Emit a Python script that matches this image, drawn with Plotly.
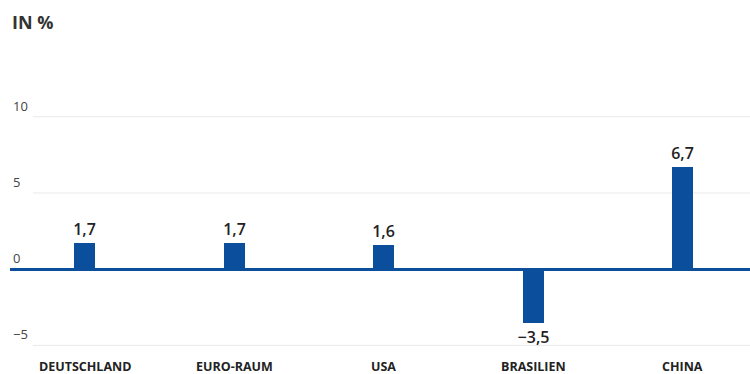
import plotly.graph_objects as go

categories = ["DEUTSCHLAND", "EURO-RAUM", "USA", "BRASILIEN", "CHINA"]
values = [1.7, 1.7, 1.6, -3.5, 6.7]
y_ticks = [-5, 0, 5, 10]
y_tick_labels = ["\u22125", "0", "5", "10"]

bar_color = "#0b4f9c"
text_color = "#222222"
font_family = "Open Sans, Noto Sans, sans-serif"

labels = [f"{v:.1f}".replace(".", ",").replace("-", "\u2212") for v in values]

fig = go.Figure()
fig.add_trace(go.Bar(
    x=list(range(len(categories))), y=values,
    width=0.14, marker=dict(color=bar_color, line=dict(width=0)),
    text=labels, textposition="outside", cliponaxis=False, constraintext="none",
    textfont=dict(family=font_family, size=16, color=text_color, weight=600),
))

shapes = []
for v in y_ticks:
    if v == 0:
        continue
    shapes.append(dict(type="line", xref="paper", yref="y", x0=0.031, x1=1,
                       y0=v, y1=v, line=dict(color="#e9e9e9", width=1), layer="below"))

annotations = []
for v, t in zip(y_ticks, y_tick_labels):
    annotations.append(dict(
        x=0, xref="paper", y=v, yref="y", text=t, showarrow=False,
        xanchor="left", yanchor="middle", xshift=1, yshift=11,
        font=dict(family=font_family, size=13, color="#444"),
    ))
for i, c in enumerate(categories):
    annotations.append(dict(
        x=i, xref="x", y=0, yref="paper", text=f"<b>{c}</b>", showarrow=False,
        xanchor="center", yanchor="middle", yshift=-13,
        font=dict(family=font_family, size=12.5, color="#222"),
    ))
annotations.append(dict(
    x=0, xref="paper", y=1, yref="paper", text="<b>IN %</b>", showarrow=False,
    xanchor="left", yanchor="middle", xshift=0, yshift=49,
    font=dict(family=font_family, size=18, color="#333"),
))

fig.update_layout(
    width=750, height=374,
    margin=dict(l=10, r=0, t=71, b=21),
    paper_bgcolor="white", plot_bgcolor="white",
    showlegend=False,
    xaxis=dict(range=[-0.5, 4.45], showticklabels=False, showgrid=False,
               zeroline=False, showline=False, ticks=""),
    yaxis=dict(range=[-5.5, 13], tickvals=y_ticks, showticklabels=False,
               showgrid=False,
               zeroline=True, zerolinecolor=bar_color, zerolinewidth=3,
               showline=False, ticks=""),
    shapes=shapes,
    annotations=annotations,
    bargap=0,
)

fig.write_html("out.html")
